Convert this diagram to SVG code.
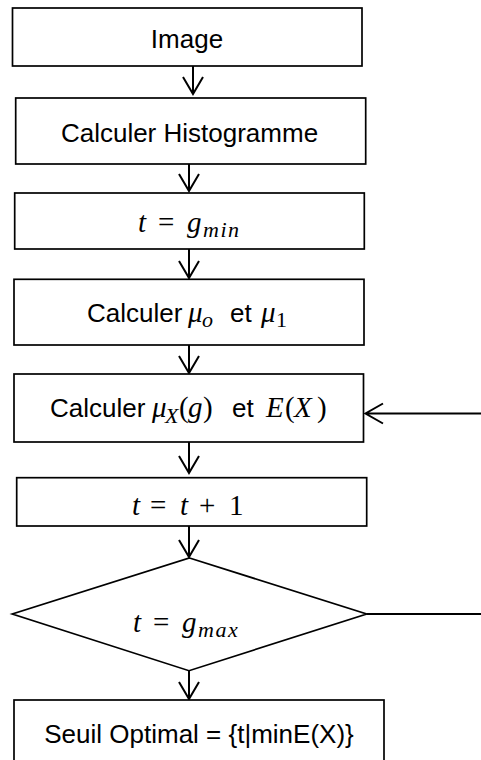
<svg xmlns="http://www.w3.org/2000/svg" width="481" height="760" viewBox="0 0 481 760">
<style>
.box{fill:#fff;stroke:#000;stroke-width:1.7}
.lbl{font-family:"Liberation Sans",Arial,sans-serif;font-size:26px;fill:#000}
.m{font-family:"Liberation Serif","Times New Roman",serif;font-size:29px;font-style:italic;fill:#000}
.up{font-style:normal}
.sub{font-size:22px;letter-spacing:1.5px}
.ln{fill:none;stroke:#000;stroke-width:2}
</style>
<rect x="0" y="0" width="481" height="760" fill="#fff"/>
<g id="connectors">
<path class="ln" d="M193,66V94M183,77L193,94L203,77"/>
<path class="ln" d="M189,164V191M179,174L189,191L199,174"/>
<path class="ln" d="M189,249V278M179,261L189,278L199,261"/>
<path class="ln" d="M189,345V373M179,356L189,373L199,356"/>
<path class="ln" d="M189,442V473M179,456L189,473L199,456"/>
<path class="ln" d="M189,526V557M179,540L189,557L199,540"/>
<path class="ln" d="M189,671V699M179,682L189,699L199,682"/>
<path class="ln" d="M366.7,614H481"/>
<path class="ln" d="M481,413.5H365.5M383,403.5L365.5,413.5L383,423.5"/>
</g>
<g id="n-image">
<rect class="box" x="12.5" y="8" width="349.5" height="58"/>
<text class="lbl" x="187" y="48" text-anchor="middle">Image</text>
</g>
<g id="n-hist">
<rect class="box" x="15.7" y="98" width="350" height="66"/>
<text class="lbl" x="189.5" y="141.5" text-anchor="middle" font-size="26.5">Calculer Histogramme</text>
</g>
<g id="n-tmin">
<rect class="box" x="14.7" y="193" width="349.6" height="56"/>
<text class="m" y="231.5"><tspan x="138">t</tspan><tspan class="up" x="158">=</tspan><tspan x="187">g</tspan><tspan class="sub" x="203" y="236.5">min</tspan></text>
</g>
<g id="n-mu01">
<rect class="box" x="14" y="279.3" width="350" height="65.7"/>
<text class="lbl" x="87" y="322" font-size="24.5">Calculer</text>
<text class="m" y="322"><tspan x="188">μ</tspan><tspan class="sub" x="202" y="327">o</tspan></text>
<text class="lbl" x="230" y="322">et</text>
<text class="m" y="322"><tspan x="261">μ</tspan><tspan class="sub up" x="276" y="327">1</tspan></text>
</g>
<g id="n-muX">
<rect class="box" x="14" y="374" width="349.5" height="68"/>
<text class="lbl" x="50" y="417" font-size="24">Calculer</text>
<text class="m" y="417"><tspan x="152">μ</tspan><tspan class="sub" x="165" y="423">X</tspan><tspan class="up" x="179" y="417">(</tspan><tspan x="188">g</tspan><tspan class="up" x="203">)</tspan></text>
<text class="lbl" x="232" y="417">et</text>
<text class="m" y="417"><tspan x="266">E</tspan><tspan class="up" x="285">(</tspan><tspan x="294">X</tspan><tspan class="up" x="317">)</tspan></text>
</g>
<g id="n-inc">
<rect class="box" x="16.7" y="477.7" width="350" height="48.3"/>
<text class="m" y="515"><tspan x="132">t</tspan><tspan class="up" x="150">=</tspan><tspan x="180">t</tspan><tspan class="up" x="199">+</tspan><tspan class="up" x="229">1</tspan></text>
</g>
<g id="n-decision">
<polygon class="box" points="189.5,558 366.7,614 189,670.7 12.3,614"/>
<text class="m" y="631.5"><tspan x="133">t</tspan><tspan class="up" x="153">=</tspan><tspan x="182">g</tspan><tspan class="sub" x="198" y="636.5">max</tspan></text>
</g>
<g id="n-result">
<rect class="box" x="14" y="700" width="370" height="70"/>
<text class="lbl" x="199" y="743" text-anchor="middle" font-size="27">Seuil Optimal = {t|minE(X)}</text>
</g>
</svg>
